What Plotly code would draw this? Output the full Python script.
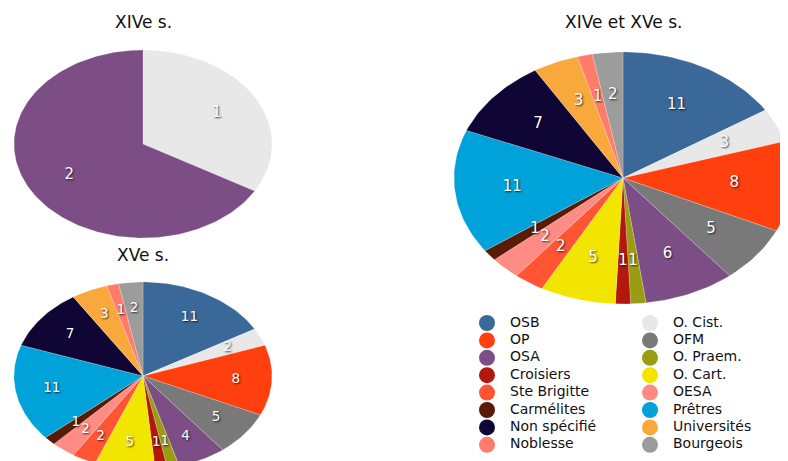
import math
import plotly.graph_objects as go

W, H = 788, 461
OFF = 8  # page body margin of the html page; positions below are given in window pixels

categories = ["OSB", "O. Cist.", "OP", "OFM", "OSA", "O. Praem.", "Croisiers", "O. Cart.",
              "Ste Brigitte", "OESA", "Carmélites", "Prêtres", "Non spécifié", "Universités",
              "Noblesse", "Bourgeois"]
colors = ["#3A6898", "#E8E8E8", "#FF3F0E", "#797979", "#7D4E86", "#9A9C12", "#B2180C", "#F2E500",
          "#FF5533", "#FF8C84", "#5A1B06", "#00A2DA", "#100636", "#F9A83C", "#FF7B6A", "#9C9C9C"]

values_14 = [0, 1, 0, 0, 2, 0, 0, 0, 0, 0, 0, 0, 0, 0, 0, 0]
values_15 = [11, 2, 8, 5, 4, 1, 1, 5, 2, 2, 1, 11, 7, 3, 1, 2]
values_all = [11, 3, 8, 5, 6, 1, 1, 5, 2, 2, 1, 11, 7, 3, 1, 2]

titles = ["XIVe s.", "XVe s.", "XIVe et XVe s."]

FONT = "'DejaVu Sans', 'Open Sans', sans-serif"

# pie layout in window pixels: center x, center y, radius x, radius y; label radius/size
pies = [
    dict(vals=values_14, cx=143, cy=144, rx=129, ry=94, title=titles[0], ty=22, lr=0.66, ls=15),
    dict(vals=values_15, cx=143, cy=376, rx=129, ry=94, title=titles[1], ty=255, lr=0.72, ls=13.5),
    dict(vals=values_all, cx=623, cy=178, rx=169, ry=126, title=titles[2], ty=22, lr=0.66, ls=15),
]


def fx(px):
    return px - OFF


def fy(py):
    return py - OFF


fig = go.Figure()
layout_axes = {}
annotations = []

for k, p in enumerate(pies):
    n = k + 1
    xa = "x" if n == 1 else f"x{n}"
    ya = "y" if n == 1 else f"y{n}"
    cx, cy = fx(p["cx"]), fy(p["cy"])
    left_px = max(cx - p["rx"], 0)
    right_px = min(cx + p["rx"], W)
    top_px = max(cy - p["ry"], 0)
    bot_px = min(cy + p["ry"], H)
    xr = [(left_px - cx) / p["rx"], (right_px - cx) / p["rx"]]
    yr = [(cy - bot_px) / p["ry"], (cy - top_px) / p["ry"]]
    axkw = dict(visible=False, showgrid=False, zeroline=False, fixedrange=True)
    layout_axes["xaxis" if n == 1 else f"xaxis{n}"] = dict(
        domain=[left_px / W, right_px / W], range=xr, anchor=ya, **axkw)
    layout_axes["yaxis" if n == 1 else f"yaxis{n}"] = dict(
        domain=[1 - bot_px / H, 1 - top_px / H], range=yr, anchor=xa, **axkw)

    total = sum(p["vals"])
    start = 0.0
    lx, ly, lt = [], [], []
    for cat, col, v in zip(categories, colors, p["vals"]):
        if v <= 0:
            continue
        a0 = start / total * 2 * math.pi
        a1 = (start + v) / total * 2 * math.pi
        steps = max(4, int((a1 - a0) / (2 * math.pi) * 240))
        xs, ys = [0.0], [0.0]
        for i in range(steps + 1):
            t = a0 + (a1 - a0) * i / steps
            xs.append(math.sin(t))
            ys.append(math.cos(t))
        xs.append(0.0)
        ys.append(0.0)
        fig.add_trace(go.Scatter(
            x=xs, y=ys, xaxis=xa, yaxis=ya, mode="lines", fill="toself",
            fillcolor=col, line=dict(color="rgba(255,255,255,0.35)", width=0.6),
            hoverinfo="text", hovertext=f"{cat}: {v}", showlegend=False))
        am = (a0 + a1) / 2
        lx.append(p["lr"] * math.sin(am))
        ly.append(p["lr"] * math.cos(am))
        lt.append(str(v))
        start += v
    fig.add_trace(go.Scatter(
        x=lx, y=ly, xaxis=xa, yaxis=ya, mode="text", text=lt,
        textfont=dict(family=FONT, size=p["ls"], color="white",
                      shadow="1px 1px 2px rgba(0,0,0,0.75)"),
        hoverinfo="skip", showlegend=False))
    annotations.append(dict(
        x=fx(p["cx"]) / W, y=1 - fy(p["ty"]) / H, xref="paper", yref="paper",
        text=p["title"], showarrow=False, xanchor="center", yanchor="middle",
        font=dict(family=FONT, size=17, color="#111111")))

# legend drawn on a full-figure axis (pixel units), two columns, row-major order
nl = len(pies) + 1
layout_axes[f"xaxis{nl}"] = dict(domain=[0, 1], range=[0, W], visible=False,
                                  anchor=f"y{nl}", fixedrange=True)
layout_axes[f"yaxis{nl}"] = dict(domain=[0, 1], range=[H, 0], visible=False,
                                  anchor=f"x{nl}", fixedrange=True)
col_marker_x = [487, 650]
col_text_x = [510, 673]
row_y0, row_dy = 323, 17.4
mx, my, tx, ty = [], [], [], []
for i, cat in enumerate(categories):
    c, r = i % 2, i // 2
    mx.append(fx(col_marker_x[c]))
    my.append(fy(row_y0 + r * row_dy))
    tx.append(fx(col_text_x[c]))
    ty.append(fy(row_y0 + r * row_dy))
fig.add_trace(go.Scatter(
    x=mx, y=my, xaxis=f"x{nl}", yaxis=f"y{nl}", mode="markers",
    marker=dict(size=16, color=colors, line=dict(width=0)),
    hoverinfo="skip", showlegend=False))
fig.add_trace(go.Scatter(
    x=tx, y=ty, xaxis=f"x{nl}", yaxis=f"y{nl}", mode="text", text=categories,
    textposition="middle right",
    textfont=dict(family=FONT, size=14, color="#111111"),
    hoverinfo="skip", showlegend=False))

fig.update_layout(
    width=W, height=H, margin=dict(l=0, r=0, t=0, b=0),
    paper_bgcolor="white", plot_bgcolor="rgba(0,0,0,0)",
    showlegend=False, annotations=annotations, **layout_axes)

fig.write_html("out.html")
